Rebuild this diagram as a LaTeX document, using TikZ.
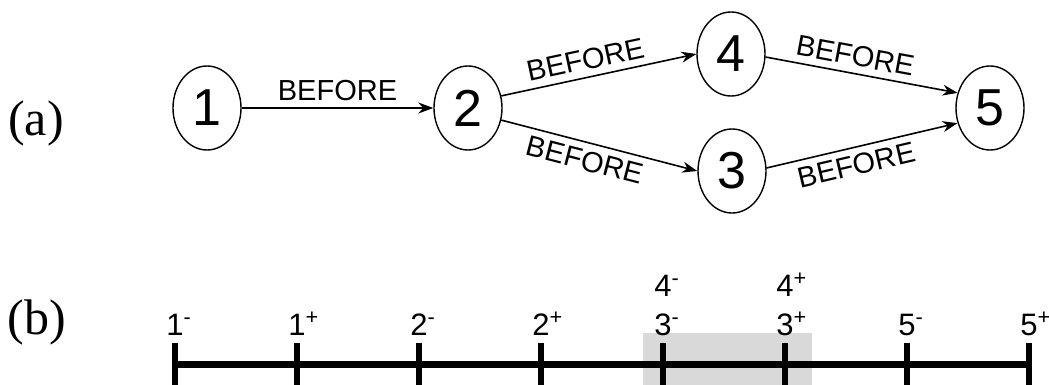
\documentclass[tikz,border=0pt]{standalone}
\usepackage{fontspec}
\setmainfont{Liberation Sans}
\newfontfamily\partfont{Liberation Serif}
\usetikzlibrary{arrows.meta,shapes.geometric}

\tikzset{
  part/.style={font=\partfont\fontsize{25}{28}\selectfont},
  event/.style={draw, ellipse, line width=0.7pt, minimum width=34pt, minimum height=42pt,
    inner sep=0pt, font=\fontsize{26}{28}\selectfont},
  rel/.style={line width=0.8pt, -{Stealth[length=7.5pt,width=5.5pt]}},
  rlab/.style={font=\fontsize{14.5}{17}\selectfont},
  tlab/.style={anchor=base, font=\fontsize{15.5}{18}\selectfont},
  tick/.style={line width=2.6pt},
}

\begin{document}
\begin{tikzpicture}[x=0.5pt,y=-0.5pt]
  \useasboundingbox (0,0) rectangle (1049,385);

  % (a) the ordering graph
  \node[part] (pa) at (36,123) {(a)};
  \node[event] (e1) at (207,108) {1};
  \node[event] (e2) at (468,108) {2};
  \node[event] (e4) at (731,54) {4};
  \node[event] (e3) at (732,171) {3};
  \node[event] (e5) at (990,108) {5};

  \draw[rel] (e1) -- node[rlab,above] {BEFORE} (e2);
  \draw[rel] (e2.20) -- node[rlab,above,sloped,pos=0.45] {BEFORE} (e4.west);
  \draw[rel] (e2.-20) -- node[rlab,below,sloped,pos=0.45] {BEFORE} (e3.west);
  \draw[rel] (e4.-5) -- node[rlab,above,sloped,pos=0.45] {BEFORE} (e5.155);
  \draw[rel] (e3.5) -- node[rlab,below,sloped,pos=0.45] {BEFORE} (e5.205);

  % (b) the time line
  \node[part] (pb) at (37,322) {(b)};
  \fill[gray!30] (643,333) rectangle (812,385);
  \draw[line width=3.5pt] (175,364) -- (1029,364);
  \foreach \d/\s [count=\i from 0] in {1/-,1/+,2/-,2/+,3/-,3/+,5/-,5/+} {
    \draw[tick] (175+122*\i,343) -- (175+122*\i,385);
    \node[tlab] (t\i) at (175+122*\i,335) {\d\rlap{\textsuperscript{\s}}};
  }
  \node[tlab] (u4) at (663,296) {4\rlap{\textsuperscript{-}}};
  \node[tlab] (u5) at (785,296) {4\rlap{\textsuperscript{+}}};
\end{tikzpicture}
\end{document}
